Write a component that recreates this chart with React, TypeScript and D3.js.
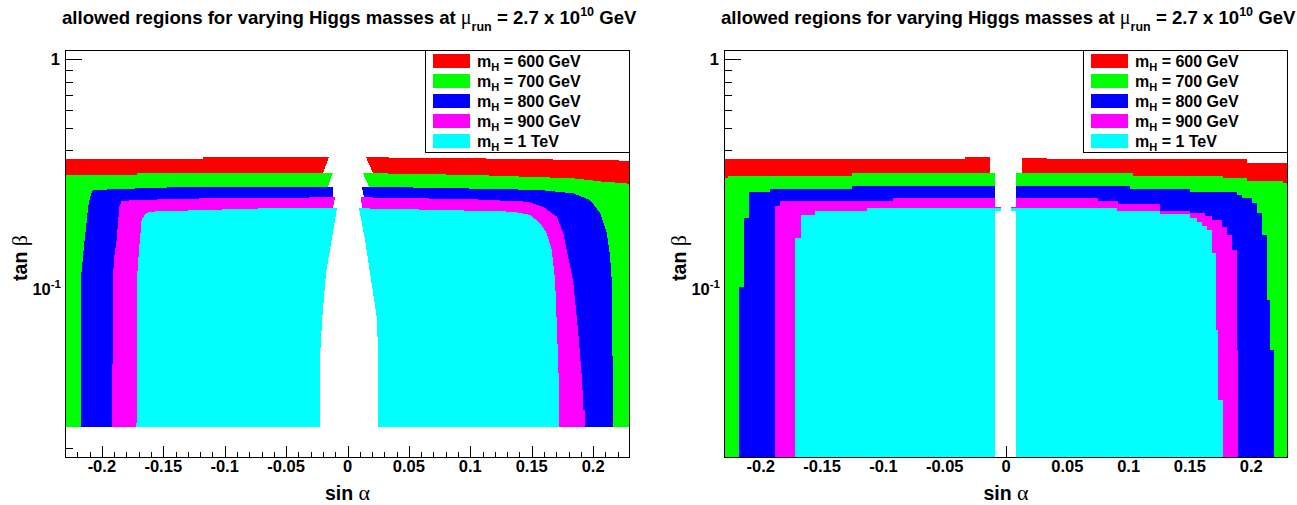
import React from "react";
import * as d3 from "d3";

// ---------- data ----------
const massLabels = ["600 GeV", "700 GeV", "800 GeV", "900 GeV", "1 TeV"];
const massColors = ["#ff0000", "#00ff00", "#0000ff", "#ff00ff", "#00ffff"];
const sinAlphaDomain = [-0.23, 0.23];
const tanBetaDomain = [0.018, 1.1];
const xMajorTicks = [-0.2, -0.15, -0.1, -0.05, 0, 0.05, 0.1, 0.15, 0.2];
const xTickLabels = ["-0.2", "-0.15", "-0.1", "-0.05", "0", "0.05", "0.1", "0.15", "0.2"];
const yMajorTicks = [1, 0.1];
const yMinorTicks = [0.02, 0.03, 0.04, 0.05, 0.06, 0.07, 0.08, 0.09, 0.2, 0.3, 0.4, 0.5, 0.6, 0.7, 0.8, 0.9];

// left panel: allowed regions, [sin alpha, tan beta] outlines
const L600 = [[-0.23, 0.0245], [-0.23, 0.3656], [-0.1177, 0.3656], [-0.1177, 0.373], [0.015, 0.373], [0.1, 0.3693], [0.2, 0.3625], [0.23, 0.3605], [0.23, 0.0245]];
const L700 = [[-0.23, 0.0245], [-0.23, 0.3121], [-0.1717, 0.3121], [-0.1717, 0.3176], [0.02, 0.3176], [0.1022, 0.3121], [0.1836, 0.3019], [0.208, 0.2917], [0.2274, 0.2871], [0.23, 0.2822], [0.23, 0.0245]];
const L800 = [[-0.2166, 0.0245], [-0.2166, 0.1162], [-0.2146, 0.1515], [-0.2129, 0.1829], [-0.2111, 0.2267], [-0.2091, 0.255], [-0.207, 0.2683], [-0.1527, 0.2747], [-0.1095, 0.2774], [0.0126, 0.2774], [0.0889, 0.273], [0.1568, 0.2683], [0.1836, 0.2595], [0.1975, 0.2425], [0.2056, 0.2127], [0.2111, 0.1739], [0.2138, 0.1369], [0.2151, 0.1083], [0.2164, 0.0245]];
const L900 = [[-0.1914, 0.0245], [-0.1912, 0.1083], [-0.1899, 0.1369], [-0.1879, 0.1621], [-0.1858, 0.2267], [-0.1839, 0.2401], [-0.1717, 0.2425], [-0.1144, 0.2467], [-0.0102, 0.2492], [0.0116, 0.2492], [0.1022, 0.2442], [0.1462, 0.2384], [0.1592, 0.2267], [0.1704, 0.205], [0.1757, 0.1734], [0.1796, 0.1369], [0.1836, 0.1083], [0.1877, 0.0654], [0.191, 0.0395], [0.192, 0.0292], [0.1932, 0.0292], [0.1932, 0.0245]];
const L1000 = [[-0.1718, 0.0245], [-0.1711, 0.1162], [-0.1695, 0.1515], [-0.1676, 0.1983], [-0.1649, 0.2107], [-0.1608, 0.2156], [-0.1144, 0.2194], [-0.0656, 0.2231], [0.0094, 0.2231], [0.0753, 0.2194], [0.1348, 0.2156], [0.1486, 0.2086], [0.1568, 0.1918], [0.1622, 0.1734], [0.1663, 0.1465], [0.169, 0.1083], [0.1706, 0.0654], [0.172, 0.0395], [0.172, 0.0245]];
const leftGap = [[-0.0151, 0.4], [-0.0151, 0.373], [-0.02, 0.3176], [-0.0121, 0.3176], [-0.0159, 0.2774], [-0.0118, 0.2774], [-0.0118, 0.2492], [-0.0102, 0.2492], [-0.0118, 0.2231], [-0.0086, 0.2231], [-0.0129, 0.1621], [-0.0175, 0.1162], [-0.0205, 0.0746], [-0.0224, 0.0498], [-0.0224, 0.02], [0.0251, 0.02], [0.0251, 0.0498], [0.0238, 0.0746], [0.0183, 0.1162], [0.0143, 0.1621], [0.0094, 0.2231], [0.0118, 0.2231], [0.011, 0.2492], [0.0134, 0.2492], [0.0118, 0.2774], [0.0175, 0.2774], [0.0126, 0.3176], [0.0208, 0.3176], [0.0151, 0.373], [0.0151, 0.4]];

// right panel
const R600 = [[-0.23, 0.018], [-0.23, 0.3656], [-0.0334, 0.3656], [-0.0334, 0.373], [0, 0.373], [0, 0.3693], [0.0332, 0.3693], [0.0332, 0.3656], [0.1963, 0.3656], [0.1963, 0.3533], [0.23, 0.3533], [0.23, 0.018]];
const R700 = [[-0.23, 0.018], [-0.23, 0.3019], [-0.2265, 0.3019], [-0.2265, 0.309], [-0.1259, 0.309], [-0.1259, 0.3176], [0.1038, 0.3176], [0.1038, 0.309], [0.177, 0.309], [0.177, 0.3019], [0.1963, 0.3019], [0.1963, 0.2947], [0.2262, 0.2947], [0.2262, 0.2871], [0.23, 0.2871], [0.23, 0.018]];
const R800 = [[-0.2178, 0.018], [-0.2178, 0.1012], [-0.2135, 0.1012], [-0.2135, 0.2017], [-0.2094, 0.2017], [-0.2094, 0.2637], [-0.1925, 0.2637], [-0.1925, 0.271], [-0.1259, 0.271], [-0.1259, 0.2794], [0.1011, 0.2794], [0.1011, 0.271], [0.1501, 0.271], [0.1501, 0.2637], [0.1882, 0.2637], [0.1882, 0.255], [0.1922, 0.255], [0.1922, 0.2467], [0.2004, 0.2467], [0.2004, 0.2346], [0.2045, 0.2346], [0.2045, 0.2121], [0.2086, 0.2121], [0.2086, 0.1704], [0.2126, 0.1704], [0.2126, 0.0885], [0.2153, 0.0885], [0.2153, 0.0535], [0.2186, 0.0535], [0.2186, 0.018]];
const R900 = [[-0.1884, 0.018], [-0.1884, 0.2284], [-0.1843, 0.2284], [-0.1843, 0.2401], [-0.0919, 0.2401], [-0.0919, 0.2482], [0.0753, 0.2482], [0.0753, 0.2401], [0.0916, 0.2401], [0.0916, 0.2323], [0.1256, 0.2323], [0.1256, 0.2172], [0.1501, 0.2172], [0.1501, 0.2127], [0.1623, 0.2127], [0.1623, 0.2065], [0.1678, 0.2065], [0.1678, 0.1983], [0.176, 0.1983], [0.176, 0.1853], [0.18, 0.1853], [0.18, 0.1704], [0.1841, 0.1704], [0.1841, 0.1465], [0.1882, 0.1465], [0.1882, 0.0535], [0.1895, 0.0535], [0.1895, 0.018]];
const R1000 = [[-0.1721, 0.018], [-0.1721, 0.1649], [-0.1672, 0.1649], [-0.1672, 0.2086], [-0.1558, 0.2086], [-0.1558, 0.2172], [-0.1136, 0.2172], [-0.1136, 0.2244], [0.0903, 0.2244], [0.0903, 0.2172], [0.1256, 0.2172], [0.1256, 0.2107], [0.1501, 0.2107], [0.1501, 0.2017], [0.1555, 0.2017], [0.1555, 0.1949], [0.1596, 0.1949], [0.1596, 0.1866], [0.1637, 0.1866], [0.1637, 0.1793], [0.1678, 0.1793], [0.1678, 0.1417], [0.1713, 0.1417], [0.1713, 0.0654], [0.1729, 0.0654], [0.1729, 0.0323], [0.177, 0.0323], [0.177, 0.018]];
const rightGap = [[-0.0131, 0.4], [-0.0131, 0.3176], [-0.009, 0.3176], [-0.009, 0.2267], [-0.0043, 0.2267], [-0.0043, 0.2178], [-0.009, 0.2178], [-0.009, 0.015], [0.0082, 0.015], [0.0082, 0.2178], [0.0041, 0.2178], [0.0041, 0.2267], [0.0082, 0.2267], [0.0082, 0.3176], [0.0128, 0.3176], [0.0128, 0.4]];

const leftRegions = [L600, L700, L800, L900, L1000];
const rightRegions = [R600, R700, R800, R900, R1000];

const FONT = "'Liberation Sans', Arial, Helvetica, sans-serif";
const SERIF = "'Liberation Serif', 'Times New Roman', serif";

function Panel({ left, right, regions, gap, id }) {
  const top = 50;
  const bottom = 458;
  const x = d3.scaleLinear().domain(sinAlphaDomain).range([left, right]);
  const y = d3.scaleLog().domain(tanBetaDomain).range([bottom, top]);
  const line = d3.line().x((d) => x(d[0])).y((d) => y(d[1]));
  const poly = (pts) => line(pts) + "Z";
  const cx = (left + right) / 2;
  const cy = (top + bottom) / 2;
  const xMinor = d3.range(-22, 23).filter((i) => i % 5 !== 0).map((i) => i / 100);
  const legLeft = right - 205;
  const legTop = top;
  const legBottom = 152;
  const yMajLen = 0.03 * (right - left);
  const xMajLen = 0.03 * (bottom - top);

  return (
    <g>
      <defs>
        <mask id={`gap-${id}`} maskUnits="userSpaceOnUse" x={0} y={0} width={1297} height={505}>
          <rect x={left} y={top} width={right - left} height={bottom - top} fill="white" />
          <path d={poly(gap)} fill="black" shapeRendering="crispEdges" />
        </mask>
      </defs>

      {/* title */}
      <text x={left - 3} y={24} fontFamily={FONT} fontWeight="bold" fontSize={18.6} fill="#000">
        {"allowed regions for varying Higgs masses at "}
        <tspan fontFamily={SERIF} fontWeight="normal" fontSize={20}>{"\u03bc"}</tspan>
        <tspan dy={7} fontSize={12.5}>{"run"}</tspan>
        <tspan dy={-7}>{" = 2.7 x 10"}</tspan>
        <tspan dy={-8} fontSize={12.5}>{"10"}</tspan>
        <tspan dy={8}>{" GeV"}</tspan>
      </text>

      {/* ticks (under the colour cells) */}
      <g stroke="#000" strokeWidth={1} shapeRendering="crispEdges">
        {yMajorTicks.map((t) => (
          <line key={`ym${t}`} x1={left} x2={left + yMajLen} y1={Math.round(y(t)) + 0.5} y2={Math.round(y(t)) + 0.5} />
        ))}
        {yMinorTicks.map((t) => (
          <line key={`yn${t}`} x1={left} x2={left + yMajLen / 2} y1={Math.round(y(t)) + 0.5} y2={Math.round(y(t)) + 0.5} />
        ))}
        {xMajorTicks.map((t) => (
          <line key={`xm${t}`} x1={Math.round(x(t)) + 0.5} x2={Math.round(x(t)) + 0.5} y1={bottom} y2={bottom - xMajLen} />
        ))}
        {xMinor.map((t) => (
          <line key={`xn${t}`} x1={Math.round(x(t)) + 0.5} x2={Math.round(x(t)) + 0.5} y1={bottom} y2={bottom - xMajLen / 2} />
        ))}
      </g>

      {/* colour regions */}
      <g mask={`url(#gap-${id})`}>
        {regions.map((r, i) => (
          <path key={i} d={poly(r)} fill={massColors[i]} shapeRendering="crispEdges" />
        ))}
      </g>

      {/* frame */}
      <rect x={left + 0.5} y={top + 0.5} width={right - left - 1} height={bottom - top - 1} fill="none" stroke="#000" strokeWidth={1} shapeRendering="crispEdges" />

      {/* x tick labels */}
      {xMajorTicks.map((t, i) => (
        <text key={`xl${t}`} x={x(t)} y={472} textAnchor="middle" fontFamily={FONT} fontWeight="bold" fontSize={16.5} fill="#000">
          {xTickLabels[i]}
        </text>
      ))}
      {/* y tick labels */}
      <text x={left - 5} y={y(1) + 6} textAnchor="end" fontFamily={FONT} fontWeight="bold" fontSize={16.5} fill="#000">1</text>
      <text x={left - 4} y={y(0.1) + 7} textAnchor="end" fontFamily={FONT} fontWeight="bold" fontSize={16.5} fill="#000">
        {"10"}
        <tspan dy={-7} fontSize={11.5}>{"-1"}</tspan>
      </text>

      {/* axis titles */}
      <text x={cx} y={500} textAnchor="middle" fontFamily={FONT} fontWeight="bold" fontSize={19.5} fill="#000">
        {"sin "}
        <tspan fontFamily={SERIF} fontWeight="normal" fontSize={22}>{"\u03b1"}</tspan>
      </text>
      <text transform={`translate(${left - 38},${cy + 4}) rotate(-90)`} textAnchor="middle" fontFamily={FONT} fontWeight="bold" fontSize={19.5} fill="#000">
        {"tan "}
        <tspan fontFamily={SERIF} fontWeight="normal" fontSize={22}>{"\u03b2"}</tspan>
      </text>

      {/* legend */}
      <rect x={legLeft + 0.5} y={legTop + 0.5} width={right - legLeft - 1} height={legBottom - legTop} fill="#fff" stroke="#000" strokeWidth={1} shapeRendering="crispEdges" />
      {massLabels.map((m, i) => {
        const ey = 61 + i * 20;
        return (
          <g key={m}>
            <rect x={legLeft + 8} y={ey - 7} width={37} height={14} fill={massColors[i]} />
            <text x={legLeft + 52} y={ey + 6} fontFamily={FONT} fontWeight="bold" fontSize={16} fill="#000">
              {"m"}
              <tspan dy={4} fontSize={11}>{"H"}</tspan>
              <tspan dy={-4}>{" = " + m}</tspan>
            </text>
          </g>
        );
      })}
    </g>
  );
}

export default function App() {
  return (
    <svg width={1297} height={505} style={{ position: "absolute", left: 0, top: 0, background: "#fff" }}>
      <rect width={1297} height={505} fill="#fff" />
      <Panel left={65} right={630} regions={leftRegions} gap={leftGap} id="L" />
      <Panel left={724} right={1288} regions={rightRegions} gap={rightGap} id="R" />
    </svg>
  );
}
